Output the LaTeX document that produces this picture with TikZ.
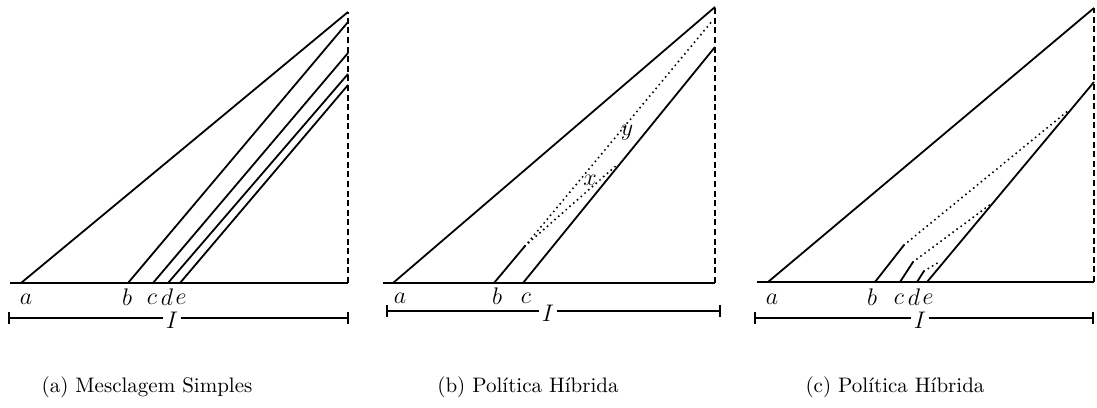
\documentclass[tikz,border=0pt]{standalone}
\begin{document}
\begin{tikzpicture}[x=0.5pt,y=-0.5pt,
  seg/.style={line width=0.9pt},
  baseln/.style={line width=1.05pt},
  dotln/.style={line width=1.1pt, dash pattern=on 0pt off 2.5pt, line cap=round},
  vdash/.style={line width=0.8pt, dash pattern=on 3pt off 1.8pt},
  intv/.style={line width=0.65pt},
  lab/.style={font=\fontsize{12.5}{14}\selectfont, inner sep=0pt},
  capt/.style={font=\fontsize{10.5}{12}\selectfont, inner sep=0pt}]
\useasboundingbox (0,0) rectangle (1097,407);

% ---------- panel (a)
\coordinate (aL) at (10,283); \coordinate (aR) at (348,283); \coordinate (aT) at (348,12);
\draw[baseln] (aL) -- (aR);
\draw[vdash] (aR) -- (aT);
\coordinate (aa) at (21,283);  \draw[seg] (aa) -- (aT);
\coordinate (ab) at (128,283); \coordinate (abT) at (348,22); \draw[seg] (ab) -- (abT);
\coordinate (ac) at (153,283); \coordinate (acT) at (348,53); \draw[seg] (ac) -- (acT);
\coordinate (ad) at (168,283); \coordinate (adT) at (348,74); \draw[seg] (ad) -- (adT);
\coordinate (ae) at (180,283); \coordinate (aeT) at (348,85); \draw[seg] (ae) -- (aeT);
\node[lab] (la) at (26,299) {$a$};
\node[lab] (lb) at (127,297) {$b$};
\node[lab] (lc) at (152,299) {$c$};
\node[lab] (ld) at (167,297) {$d$};
\node[lab] (le) at (181,299) {$e$};
\node[lab] (aI) at (172,320) {$I$};
\coordinate (aI0) at (9,318); \coordinate (aI1) at (348,318);
\draw[intv] (aI0) -- ([xshift=-1pt]aI.west |- aI0);
\draw[intv] ([xshift=1pt]aI.east |- aI1) -- (aI1);
\draw[intv] ([yshift=-3]aI0) -- ([yshift=3]aI0);
\draw[intv] ([yshift=-3]aI1) -- ([yshift=3]aI1);
\node[capt] (ca) at (147,387) {(a) Mesclagem Simples};

% ---------- panel (b)
\coordinate (bL) at (383,283); \coordinate (bR) at (715,283); \coordinate (bT) at (715,7);
\draw[baseln] (bL) -- (bR);
\draw[vdash] (bR) -- (bT);
\coordinate (ba) at (393,283); \draw[seg] (ba) -- (bT);
\coordinate (bb) at (494,283); \coordinate (bbK) at (525,246);
\draw[seg] (bb) -- (bbK);
\coordinate (bbY) at (713,20); \coordinate (bbX) at (618,164);
\draw[dotln] (bbK) -- (bbY);
\draw[dotln] (bbK) -- (bbX);
\coordinate (bc) at (523,283); \coordinate (bcT) at (715,47); \draw[seg] (bc) -- (bcT);
\node[lab] (bla) at (400,298) {$a$};
\node[lab] (blb) at (497,296) {$b$};
\node[lab] (blc) at (526,298) {$c$};
\node[lab] (blx) at (590,180) {$x$};
\node[lab] (bly) at (627,133) {$y$};
\node[lab] (bI) at (548,313) {$I$};
\coordinate (bI0) at (387,311); \coordinate (bI1) at (720,311);
\draw[intv] (bI0) -- ([xshift=-1pt]bI.west |- bI0);
\draw[intv] ([xshift=1pt]bI.east |- bI1) -- (bI1);
\draw[intv] ([yshift=-3]bI0) -- ([yshift=3]bI0);
\draw[intv] ([yshift=-3]bI1) -- ([yshift=3]bI1);
\node[capt] (cb) at (528,387) {(b) Pol\'{\i}tica H\'{\i}brida};

% ---------- panel (c)
\coordinate (cL) at (757,282); \coordinate (cR) at (1094,282); \coordinate (cT) at (1094,8);
\draw[baseln] (cL) -- (cR);
\draw[vdash] (cR) -- (cT);
\coordinate (ca0) at (768,282); \draw[seg] (ca0) -- (cT);
\coordinate (ce) at (927,282); \coordinate (ceT) at (1094,82); \draw[seg] (ce) -- (ceT);
\coordinate (cb0) at (875,282); \coordinate (cbK) at (904,245); \coordinate (cbE) at (1069,110);
\draw[seg] (cb0) -- (cbK); \draw[dotln] (cbK) -- (cbE);
\coordinate (cc0) at (900,282); \coordinate (ccK) at (913,262); \coordinate (ccE) at (991,204);
\draw[seg] (cc0) -- (ccK); \draw[dotln] (ccK) -- (ccE);
\coordinate (cd0) at (917,282); \coordinate (cdK) at (924,271); \coordinate (cdE) at (941,261);
\draw[seg] (cd0) -- (cdK); \draw[dotln] (cdK) -- (cdE);
\node[lab] (cla) at (772,299) {$a$};
\node[lab] (clb) at (872,297) {$b$};
\node[lab] (clc) at (899,299) {$c$};
\node[lab] (cld) at (914,297) {$d$};
\node[lab] (cle) at (928,299) {$e$};
\node[lab] (cI) at (920,320) {$I$};
\coordinate (cI0) at (755,318); \coordinate (cI1) at (1093,318);
\draw[intv] (cI0) -- ([xshift=-1pt]cI.west |- cI0);
\draw[intv] ([xshift=1pt]cI.east |- cI1) -- (cI1);
\draw[intv] ([yshift=-3]cI0) -- ([yshift=3]cI0);
\draw[intv] ([yshift=-3]cI1) -- ([yshift=3]cI1);
\node[capt] (cc) at (895,387) {(c) Pol\'{\i}tica H\'{\i}brida};
\end{tikzpicture}
\end{document}
